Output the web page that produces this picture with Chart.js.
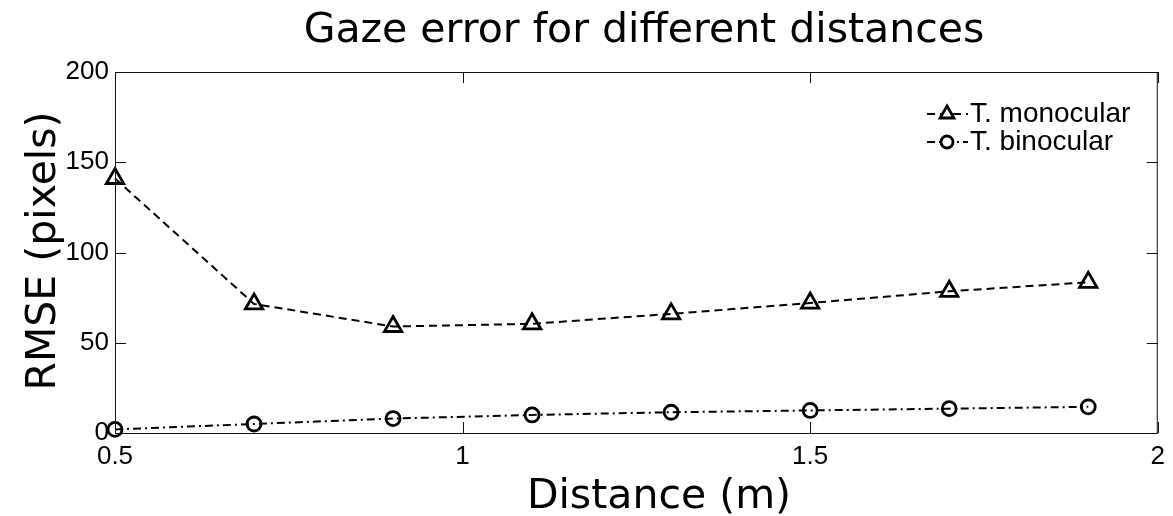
<!DOCTYPE html>
<html>
<head>
<meta charset="utf-8">
<script src="https://cdn.jsdelivr.net/npm/chart.js@4.4.1/dist/chart.umd.min.js"></script>
<style>
html,body{margin:0;padding:0;background:#fff;}
#wrap{width:1173px;height:516px;position:relative;}
</style>
</head>
<body>
<div id="wrap"><canvas id="c" width="1173" height="516"></canvas></div>
<script>
// ---- data ----
const distances = [0.5, 0.7, 0.9, 1.1, 1.3, 1.5, 1.7, 1.9];
const monocular = [141, 71.5, 59, 60.5, 66, 72, 78.5, 83.5];
const binocular = [2, 5, 8, 10, 11.5, 12.5, 13.5, 14.5];
const seriesNames = ['T. monocular', 'T. binocular'];
const xTicks = [0.5, 1, 1.5, 2];
const yTicks = [0, 50, 100, 150, 200];
const titleText = 'Gaze error for different distances';
const xTitle = 'Distance (m)';
const yTitle = 'RMSE (pixels)';

const TXT = "'DejaVu Sans', sans-serif";
const NUM = "'Liberation Sans', Arial, sans-serif";

const decor = {
  id: 'decor',
  afterDraw(chart) {
    const ctx = chart.ctx;
    const a = chart.chartArea;
    const xs = chart.scales.x, ys = chart.scales.y;
    ctx.save();
    // box
    ctx.strokeStyle = '#111';
    ctx.lineWidth = 1;
    ctx.strokeRect(a.left + 0.5, a.top + 0.5, a.right - a.left - 1, a.bottom - a.top);
    // inward ticks
    ctx.beginPath();
    ys.ticks.forEach(t => {
      const y = Math.round(ys.getPixelForValue(t.value)) + 0.5;
      ctx.moveTo(a.left, y); ctx.lineTo(a.left + 11, y);
      ctx.moveTo(a.right, y); ctx.lineTo(a.right - 11, y);
    });
    xs.ticks.forEach(t => {
      const x = Math.round(xs.getPixelForValue(t.value)) + 0.5;
      ctx.moveTo(x, a.bottom); ctx.lineTo(x, a.bottom - 11);
      ctx.moveTo(x, a.top); ctx.lineTo(x, a.top + 11);
    });
    ctx.stroke();

    // title
    ctx.fillStyle = '#000';
    ctx.font = '41px ' + TXT;
    ctx.textAlign = 'center';
    ctx.textBaseline = 'alphabetic';
    ctx.fillText(titleText, 644, 42);
    // x title
    ctx.fillText(xTitle, 659, 508);
    // y title
    ctx.save();
    ctx.translate(55, 251);
    ctx.rotate(-Math.PI / 2);
    ctx.fillText(yTitle, 0, 0);
    ctx.restore();

    // legend
    const ds = chart.data.datasets;
    const rows = [114, 142];
    ds.forEach((d, i) => {
      const y = rows[i];
      ctx.save();
      ctx.strokeStyle = '#000';
      ctx.lineWidth = 2;
      ctx.setLineDash(d.borderDash);
      ctx.beginPath();
      ctx.moveTo(927, y); ctx.lineTo(968, y);
      ctx.stroke();
      ctx.setLineDash([]);
      ctx.lineWidth = 2.8;
      ctx.fillStyle = '#fff';
      if (d.pointStyle === 'triangle') {
        const r = 8;
        ctx.beginPath();
        ctx.moveTo(947, y - r);
        ctx.lineTo(947 + r * 0.866, y + r * 0.5);
        ctx.lineTo(947 - r * 0.866, y + r * 0.5);
        ctx.closePath();
        ctx.fill(); ctx.stroke();
      } else {
        ctx.beginPath();
        ctx.arc(947, y, 6, 0, Math.PI * 2);
        ctx.fill(); ctx.stroke();
      }
      ctx.restore();
      ctx.font = '28px ' + NUM;
      ctx.textAlign = 'left';
      ctx.textBaseline = 'middle';
      ctx.fillStyle = '#000';
      ctx.fillText(d.label, 970, y);
    });
    ctx.restore();
  }
};

new Chart(document.getElementById('c'), {
  type: 'line',
  data: {
    datasets: [
      {
        label: seriesNames[0],
        data: distances.map((x, i) => ({x: x, y: monocular[i]})),
        borderColor: '#000',
        borderWidth: 2,
        borderDash: [8, 5],
        pointStyle: 'triangle',
        pointRadius: 10,
        pointBorderWidth: 2.8,
        pointBorderColor: '#000',
        pointBackgroundColor: 'rgba(0,0,0,0)',
        tension: 0,
        clip: false
      },
      {
        label: seriesNames[1],
        data: distances.map((x, i) => ({x: x, y: binocular[i]})),
        borderColor: '#000',
        borderWidth: 2,
        borderDash: [8, 4, 2, 4],
        pointStyle: 'circle',
        pointRadius: 7,
        pointBorderWidth: 2.8,
        pointBorderColor: '#000',
        pointBackgroundColor: 'rgba(0,0,0,0)',
        tension: 0,
        clip: false
      }
    ]
  },
  options: {
    responsive: false,
    animation: false,
    devicePixelRatio: 1,
    layout: {padding: {top: 72, right: 13, left: 0, bottom: 0}},
    plugins: {legend: {display: false}, title: {display: false}, tooltip: {enabled: false}},
    scales: {
      x: {
        type: 'linear',
        min: 0.5, max: 2,
        afterBuildTicks(s) { s.ticks = xTicks.map(v => ({value: v})); },
        afterFit(s) { s.height = 83; },
        grid: {display: true, drawOnChartArea: false, drawTicks: false},
        border: {display: true, color: '#111', width: 1},
        ticks: {
          color: '#000', padding: 8,
          font: {family: NUM, size: 26},
          maxRotation: 0, autoSkip: false,
          callback: v => String(v)
        }
      },
      y: {
        min: 0, max: 200,
        afterBuildTicks(s) { s.ticks = yTicks.map(v => ({value: v})); },
        afterFit(s) { s.width = 115; },
        grid: {display: true, drawOnChartArea: false, drawTicks: false},
        border: {display: true, color: '#111', width: 1},
        ticks: {
          color: '#000', padding: 6,
          font: {family: NUM, size: 26},
          autoSkip: false,
          callback: v => String(v)
        }
      }
    }
  },
  plugins: [decor]
});
</script>
</body>
</html>
